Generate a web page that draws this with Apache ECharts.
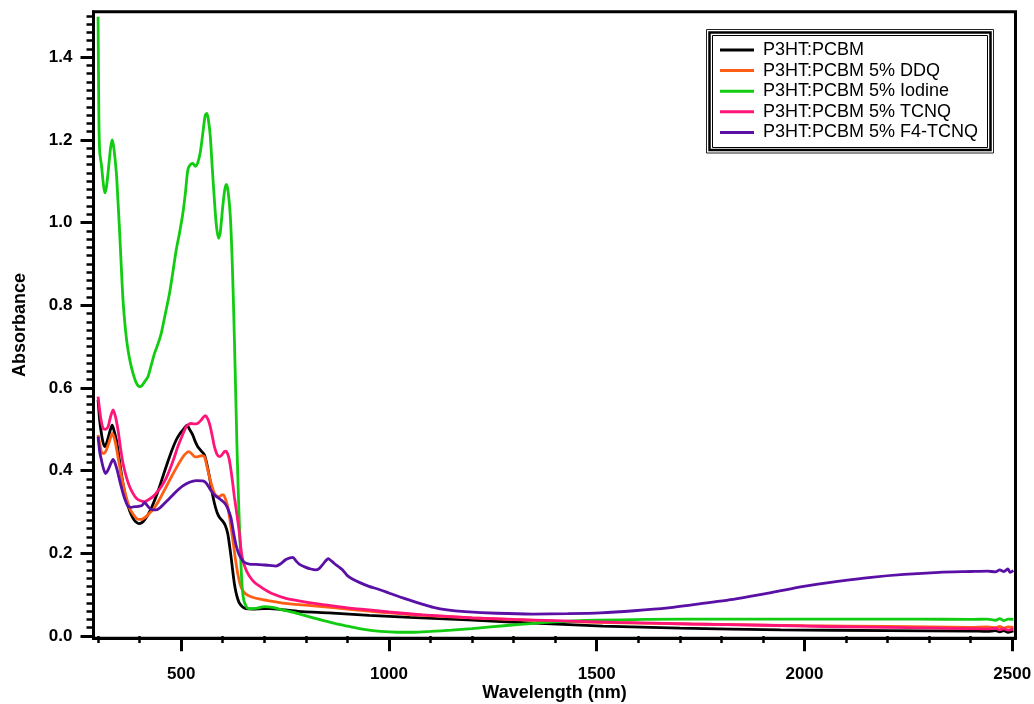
<!DOCTYPE html>
<html>
<head>
<meta charset="utf-8">
<script src="https://cdn.jsdelivr.net/npm/echarts@6/dist/echarts.min.js"></script>
<style>
html,body{margin:0;padding:0;background:#fff;}
#chart{width:1034px;height:704px;}
</style>
</head>
<body>
<div id="chart"></div>
<script>
// ---- Data ----
var seriesNames = ['P3HT:PCBM', 'P3HT:PCBM 5% DDQ', 'P3HT:PCBM 5% Iodine', 'P3HT:PCBM 5% TCNQ', 'P3HT:PCBM 5% F4-TCNQ'];

var blackWl  = [300,304,308,312,316,320,326,330,334,338,344,350,356,362,368,376,384,390,398,405,412,420,428,438,448,458,468,478,488,496,504,510,514,520,528,534,540,548,556,562,568,574,580,586,592,600,606,612,616,620,624,628,632,636,640,648,656,672,700,712,750,792,856,952,1050,1190,1350,1515,1700,1943,2200,2400,2440,2460,2470,2480,2490,2503];
var blackAbs = [0.571,0.52,0.490,0.468,0.458,0.465,0.486,0.500,0.510,0.498,0.474,0.435,0.393,0.358,0.329,0.303,0.285,0.277,0.272,0.274,0.281,0.293,0.309,0.333,0.361,0.392,0.422,0.450,0.474,0.488,0.498,0.506,0.510,0.500,0.486,0.470,0.458,0.448,0.438,0.415,0.385,0.350,0.321,0.300,0.287,0.278,0.268,0.248,0.222,0.192,0.158,0.127,0.105,0.090,0.080,0.070,0.066,0.065,0.066,0.066,0.063,0.059,0.056,0.050,0.045,0.039,0.031,0.024,0.019,0.015,0.013,0.012,0.011,0.013,0.010,0.013,0.009,0.012];

var ddqWl  = [300,305,310,315,320,327,334,340,345,352,360,368,376,384,392,398,404,412,420,430,440,452,464,476,488,498,508,518,524,532,538,544,550,556,561,566,572,580,586,592,598,602,607,612,616,620,624,630,636,642,648,656,668,690,712,750,792,872,952,1050,1200,1400,1600,1800,2000,2200,2400,2440,2460,2470,2480,2490,2503];
var ddqAbs = [0.486,0.46,0.442,0.442,0.450,0.47,0.490,0.475,0.450,0.41,0.369,0.335,0.309,0.295,0.285,0.282,0.282,0.286,0.293,0.303,0.317,0.338,0.361,0.384,0.406,0.423,0.438,0.446,0.442,0.434,0.433,0.435,0.436,0.434,0.415,0.393,0.370,0.345,0.338,0.337,0.341,0.341,0.330,0.313,0.290,0.262,0.235,0.19,0.152,0.125,0.110,0.101,0.095,0.089,0.085,0.079,0.075,0.068,0.060,0.052,0.044,0.036,0.031,0.028,0.025,0.023,0.021,0.022,0.020,0.023,0.019,0.022,0.021];

var iodineWl  = [300,302,304,308,312,316,320,324,330,334,338,344,348,352,356,360,366,372,378,384,392,400,406,412,420,428,436,444,452,462,472,480,488,496,504,510,516,522,528,534,540,546,552,558,562,566,570,575,580,585,590,594,600,605,609,613,618,622,626,630,634,638,642,646,650,656,662,680,700,720,744,770,792,820,848,880,904,940,980,1020,1060,1100,1150,1200,1290,1400,1500,1617,1800,1943,2100,2270,2400,2440,2460,2470,2480,2490,2503];
var iodineAbs = [1.498,1.25,1.17,1.14,1.10,1.072,1.085,1.12,1.18,1.20,1.18,1.12,1.05,0.975,0.89,0.813,0.74,0.692,0.66,0.636,0.612,0.603,0.606,0.615,0.627,0.655,0.684,0.706,0.732,0.78,0.829,0.88,0.933,0.975,1.022,1.07,1.127,1.14,1.143,1.136,1.145,1.17,1.215,1.26,1.264,1.245,1.21,1.13,1.054,0.99,0.962,0.975,1.038,1.08,1.092,1.075,1.02,0.93,0.80,0.64,0.47,0.33,0.22,0.13,0.09,0.072,0.066,0.067,0.071,0.069,0.063,0.057,0.051,0.043,0.036,0.028,0.023,0.016,0.011,0.009,0.009,0.011,0.014,0.018,0.026,0.034,0.038,0.040,0.041,0.041,0.041,0.041,0.040,0.041,0.038,0.042,0.037,0.041,0.040];

var tcnqWl  = [300,306,312,318,324,330,336,342,348,354,360,368,376,384,392,402,412,422,432,442,452,462,472,482,492,502,512,518,524,530,536,542,548,554,558,563,568,574,580,586,592,598,604,608,612,616,620,624,628,634,640,644,648,656,664,676,688,700,720,752,800,848,900,952,1000,1081,1200,1300,1400,1550,1726,1900,2052,2250,2400,2440,2460,2470,2480,2490,2503];
var tcnqAbs = [0.579,0.53,0.502,0.50,0.506,0.53,0.547,0.53,0.498,0.455,0.418,0.385,0.361,0.345,0.333,0.327,0.325,0.330,0.337,0.348,0.361,0.378,0.401,0.428,0.458,0.483,0.506,0.512,0.514,0.513,0.513,0.516,0.522,0.530,0.533,0.527,0.514,0.488,0.458,0.440,0.434,0.438,0.446,0.447,0.440,0.426,0.40,0.37,0.337,0.295,0.25,0.21,0.185,0.160,0.145,0.130,0.121,0.113,0.102,0.091,0.082,0.075,0.068,0.063,0.058,0.051,0.044,0.040,0.037,0.033,0.029,0.026,0.023,0.020,0.018,0.017,0.019,0.015,0.018,0.014,0.017];

var f4Wl  = [300,304,308,313,318,322,326,331,336,341,346,353,360,366,372,380,388,394,400,406,412,418,424,432,440,450,460,470,480,492,504,520,536,552,560,566,573,580,588,596,604,610,616,620,626,632,638,644,652,664,680,696,712,728,740,752,762,769,776,784,800,812,824,832,840,848,854,861,868,878,888,900,912,930,952,975,1000,1025,1052,1080,1107,1140,1183,1260,1346,1430,1509,1590,1672,1750,1835,1920,1998,2080,2161,2240,2324,2400,2440,2460,2470,2480,2490,2495,2503];
var f4Abs = [0.482,0.445,0.426,0.405,0.393,0.398,0.406,0.418,0.427,0.418,0.401,0.372,0.345,0.327,0.314,0.311,0.313,0.313,0.314,0.316,0.323,0.316,0.309,0.305,0.305,0.311,0.321,0.331,0.341,0.353,0.363,0.372,0.376,0.375,0.370,0.361,0.350,0.341,0.335,0.329,0.322,0.313,0.298,0.285,0.250,0.220,0.200,0.188,0.178,0.174,0.173,0.172,0.171,0.169,0.175,0.185,0.189,0.190,0.182,0.174,0.166,0.162,0.160,0.163,0.172,0.182,0.187,0.182,0.176,0.168,0.160,0.146,0.138,0.129,0.120,0.113,0.104,0.095,0.086,0.077,0.069,0.063,0.059,0.055,0.053,0.054,0.056,0.061,0.068,0.078,0.090,0.105,0.120,0.132,0.142,0.149,0.154,0.156,0.157,0.155,0.160,0.156,0.162,0.154,0.158];

var seriesColors = ['#000000', '#FF5F15', '#11CC11', '#FF1478', '#5A0FA5'];

// Axis ticks
var xMajorTicks = [500, 1000, 1500, 2000, 2500];
var xMinorTicks = [300, 400, 600, 700, 800, 900, 1100, 1200, 1300, 1400, 1600, 1700, 1800, 1900, 2100, 2200, 2300, 2400];
var yMajorTicks = [0.0, 0.2, 0.4, 0.6, 0.8, 1.0, 1.2, 1.4];
var yMinorTicks = [];
for (var k = 1; k <= 75; k++) { if (k % 10 !== 0) yMinorTicks.push(Math.round(k * 2) / 100); }

function zip(a, b) { var r = []; for (var i = 0; i < a.length; i++) r.push([a[i], b[i]]); return r; }
var allData = [zip(blackWl, blackAbs), zip(ddqWl, ddqAbs), zip(iodineWl, iodineAbs), zip(tcnqWl, tcnqAbs), zip(f4Wl, f4Abs)];

var FONT = '"Liberation Sans", Arial, sans-serif';
var X_MIN = 289, X_MAX = 2508, Y_MIN = -0.0056, Y_MAX = 1.51;

var chart = echarts.init(document.getElementById('chart'), null, {renderer: 'canvas'});
var option = {
  animation: false,
  backgroundColor: '#ffffff',
  grid: {
    left: 93.5, right: 18.5, top: 11.7, bottom: 65.7,
    outerBoundsMode: 'none', containLabel: false,
    show: true, borderColor: '#000', borderWidth: 3, backgroundColor: 'transparent'
  },
  legend: {
    orient: 'vertical', left: 715, top: 36, z: 10,
    itemWidth: 34, itemHeight: 3, itemGap: 2.6, icon: 'rect',
    textStyle: {fontFamily: FONT, fontSize: 18, color: '#000', lineHeight: 18, padding: [0, 0, 0, 4]},
    data: seriesNames
  },
  graphic: [
    {type: 'rect', z: 3, shape: {x: 706.5, y: 29.5, width: 287, height: 123.5}, style: {fill: '#fff', stroke: '#222', lineWidth: 1}},
    {type: 'rect', z: 3, shape: {x: 709.5, y: 32.5, width: 281, height: 117.5}, style: {fill: 'none', stroke: '#000', lineWidth: 2.5}},
    {type: 'rect', z: 3, shape: {x: 712.5, y: 35.5, width: 275, height: 112}, style: {fill: 'none', stroke: '#000', lineWidth: 1}}
  ],
  xAxis: [{
    type: 'value', min: X_MIN, max: X_MAX, position: 'bottom',
    name: 'Wavelength (nm)', nameLocation: 'middle', nameGap: 46, nameMoveOverlap: false,
    nameTextStyle: {fontFamily: FONT, fontSize: 18, fontWeight: 'bold', color: '#000'},
    axisLine: {show: true, onZero: false, lineStyle: {color: '#000', width: 3}},
    axisTick: {show: true, customValues: xMajorTicks, length: 13, lineStyle: {color: '#000', width: 3}},
    axisLabel: {show: true, customValues: xMajorTicks, margin: 28, fontFamily: FONT, fontSize: 17, fontWeight: 'bold', color: '#000',
      formatter: function (v) { return String(Math.round(v)); }},
    splitLine: {show: false}
  }, {
    type: 'value', min: X_MIN, max: X_MAX, position: 'bottom',
    axisLine: {show: false},
    axisTick: {show: true, customValues: xMinorTicks, length: 7, lineStyle: {color: '#000', width: 2.5}},
    axisLabel: {show: false},
    splitLine: {show: false}
  }],
  yAxis: [{
    type: 'value', min: Y_MIN, max: Y_MAX, position: 'left',
    name: 'Absorbance', nameLocation: 'middle', nameGap: 64, nameRotate: 90, nameMoveOverlap: false,
    nameTextStyle: {fontFamily: FONT, fontSize: 18, fontWeight: 'bold', color: '#000'},
    axisLine: {show: true, onZero: false, lineStyle: {color: '#000', width: 3}},
    axisTick: {show: true, customValues: yMajorTicks, length: 13, lineStyle: {color: '#000', width: 3}},
    axisLabel: {show: true, customValues: yMajorTicks, margin: 21, fontFamily: FONT, fontSize: 17, fontWeight: 'bold', color: '#000',
      formatter: function (v) { return v.toFixed(1); }},
    splitLine: {show: false}
  }, {
    type: 'value', min: Y_MIN, max: Y_MAX, position: 'left',
    axisLine: {show: false},
    axisTick: {show: true, customValues: yMinorTicks, length: 7, lineStyle: {color: '#000', width: 2.5}},
    axisLabel: {show: false},
    splitLine: {show: false}
  }],
  series: seriesNames.map(function (name, i) {
    return {
      name: name, type: 'line', xAxisIndex: 0, yAxisIndex: 0,
      data: allData[i], showSymbol: false, symbol: 'none', smooth: 0.25,
      color: seriesColors[i],
      lineStyle: {color: seriesColors[i], width: 2.8},
      z: 2 + i * 0.01
    };
  })
};
chart.setOption(option);
</script>
</body>
</html>
